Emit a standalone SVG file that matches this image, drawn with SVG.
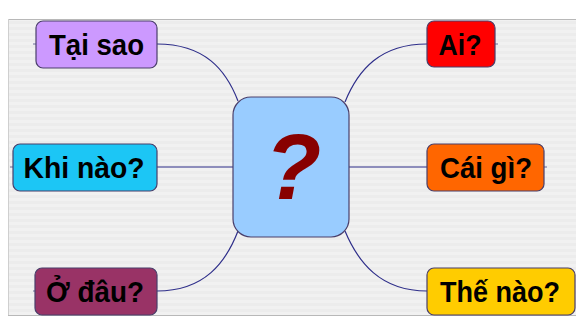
<svg xmlns="http://www.w3.org/2000/svg" width="576" height="324" viewBox="0 0 576 324">
  <defs>
    <pattern id="stripes" width="8" height="6" patternUnits="userSpaceOnUse">
      <rect width="8" height="6" fill="#f1f1f1"/>
      <rect y="3" width="8" height="3" fill="#ececec"/>
    </pattern>
  </defs>
  <style>
    .node rect { stroke: #4a3f6b; stroke-width: 1.2; }
    .label { font-family: "Liberation Sans", Arial, sans-serif; font-weight: bold; font-size: 30px; fill: #000; text-anchor: middle; }
    .link { fill: none; stroke: #2e2e8a; stroke-width: 1.2; }
    .tail { fill: none; stroke: #6a6a9a; stroke-width: 1; }
  </style>

  <!-- background panel -->
  <rect x="0" y="0" width="576" height="324" fill="#ffffff"/>
  <rect x="8" y="19" width="568" height="296" fill="url(#stripes)"/>
  <line x1="8" y1="19.5" x2="576" y2="19.5" stroke="#b8b8b8" stroke-width="1"/>
  <line x1="8.5" y1="19" x2="8.5" y2="315" stroke="#cfcfcf" stroke-width="1"/>
  <line x1="8" y1="315.5" x2="576" y2="315.5" stroke="#b8b8b8" stroke-width="1"/>

  <!-- connectors -->
  <g id="connectors">
    <path class="link" d="M157,44 C205,44 226,70 238,101"/>
    <path class="link" d="M157,167 L233,167"/>
    <path class="link" d="M157,291 C205,291 226,262 238,231"/>
    <path class="link" d="M427,44 C380,44 358,70 345,102"/>
    <path class="link" d="M349,167 L427,167"/>
    <path class="link" d="M427,291 C380,291 358,262 345,231"/>
    <path class="tail" d="M33,44 H36 M10,167 H13 M33,291 H35 M495,44 H498 M544,167 H547"/>
  </g>

  <!-- centre -->
  <g id="center" class="node">
    <rect x="233" y="97" width="116" height="140" rx="18" fill="#99ccff"/>
    <text x="293" y="199" font-family="Liberation Sans, Arial, sans-serif" font-weight="bold" font-style="italic" font-size="92" fill="#880000" text-anchor="middle">?</text>
  </g>

  <!-- left side -->
  <g id="tai-sao" class="node">
    <rect x="36" y="21" width="121" height="47" rx="7" fill="#cc99ff"/>
    <text class="label" x="96.5" y="55" textLength="95" lengthAdjust="spacingAndGlyphs">Tại sao</text>
  </g>
  <g id="khi-nao" class="node">
    <rect x="13" y="144" width="144" height="47" rx="7" fill="#1cc6f5"/>
    <text class="label" x="84" y="178" textLength="121" lengthAdjust="spacingAndGlyphs">Khi nào?</text>
  </g>
  <g id="o-dau" class="node">
    <rect x="35" y="268" width="122" height="47" rx="7" fill="#993366"/>
    <text class="label" x="95" y="302" textLength="98" lengthAdjust="spacingAndGlyphs">Ở đâu?</text>
  </g>

  <!-- right side -->
  <g id="ai" class="node">
    <rect x="427" y="21" width="68" height="46" rx="7" fill="#ff0000"/>
    <text class="label" x="460" y="55" textLength="43" lengthAdjust="spacingAndGlyphs">Ai?</text>
  </g>
  <g id="cai-gi" class="node">
    <rect x="427" y="144" width="117" height="47" rx="7" fill="#ff6600"/>
    <text class="label" x="486" y="178" textLength="92" lengthAdjust="spacingAndGlyphs">Cái gì?</text>
  </g>
  <g id="the-nao" class="node">
    <rect x="427" y="268" width="148" height="47" rx="7" fill="#ffcc00"/>
    <text class="label" x="500" y="302" textLength="120" lengthAdjust="spacingAndGlyphs">Thế nào?</text>
  </g>
</svg>
